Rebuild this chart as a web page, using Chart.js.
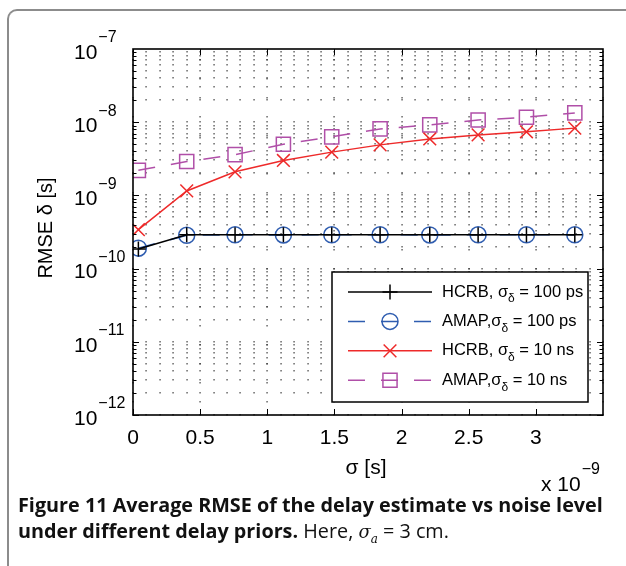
<!DOCTYPE html>
<html>
<head>
<meta charset="utf-8">
<script src="https://cdn.jsdelivr.net/npm/chart.js"></script>
<style>
  html, body { margin: 0; padding: 0; background: #fff; }
  body { width: 626px; height: 566px; position: relative; overflow: hidden; }
  #frame { position: absolute; left: 7px; top: 9px; width: 660px; height: 620px;
           border-left: 2px solid #8c8c8c; border-top: 2px solid #8c8c8c;
           border-top-left-radius: 10px; box-sizing: border-box; }
  #wrap { position: absolute; left: 0; top: 0; width: 626px; height: 495px; }
  #caption { position: absolute; left: 18px; top: 492px; width: 608px;
             font-family: "Open Sans", sans-serif; font-size: 19.8px; line-height: 26px; color: #111; }
  #caption b { font-weight: 700; }
  #caption i { font-family: "DejaVu Serif", serif; font-style: italic; font-size: 18px; }
</style>
</head>
<body>
<div id="frame"></div>
<div id="wrap"><canvas id="chart" width="626" height="495"></canvas></div>
<div id="caption"><b>Figure 11 Average RMSE of the delay estimate vs noise level<br>under different delay priors.</b> Here, <i>σ<sub style="font-size:12px">a</sub></i> = 3 cm.</div>
<script>
// noise level sigma, in units of 1e-9 s
const sigmaNs = [0.04, 0.40, 0.76, 1.12, 1.48, 1.84, 2.21, 2.57, 2.93, 3.29];

// RMSE of the delay estimate [s]
const hcrb100ps = [1.85e-10, 2.9e-10, 2.9e-10, 2.9e-10, 2.9e-10, 2.9e-10, 2.9e-10, 2.9e-10, 2.9e-10, 2.9e-10];
const amap100ps = [1.9e-10, 2.85e-10, 2.9e-10, 2.88e-10, 2.9e-10, 2.9e-10, 2.88e-10, 2.9e-10, 2.9e-10, 2.9e-10];
const hcrb10ns = [3.4e-10, 1.15e-9, 2.1e-9, 3.0e-9, 3.9e-9, 4.9e-9, 5.9e-9, 6.7e-9, 7.4e-9, 8.3e-9];
const amap10ns = [2.2e-9, 2.9e-9, 3.6e-9, 5.0e-9, 6.3e-9, 8.1e-9, 9.2e-9, 1.07e-8, 1.17e-8, 1.34e-8];

const legendNames = ['HCRB, ', 'AMAP,', 'HCRB, ', 'AMAP,'];
const legendPriors = ['100 ps', '100 ps', '10 ns', '10 ns'];

const xTicks = [0, 0.5, 1, 1.5, 2, 2.5, 3];
const yExps = [-12, -11, -10, -9, -8, -7];

const FONT = '"Liberation Sans", Arial, sans-serif';

const pts = (ys) => sigmaNs.map((x, i) => ({ x: x, y: ys[i] }));

const mkSet = (label, ys, color, style, radius, dash) => ({
  label: label,
  data: pts(ys),
  borderColor: color,
  backgroundColor: 'transparent',
  borderWidth: 1.5,
  borderDash: dash,
  pointStyle: style,
  pointRadius: radius,
  pointBorderColor: color,
  pointBackgroundColor: 'transparent',
  pointBorderWidth: 1.5,
  tension: 0,
  fill: false
});

const datasets = [
  mkSet('HCRB 100ps', hcrb100ps, '#000000', 'cross', 7.5, []),
  mkSet('AMAP 100ps', amap100ps, '#2f5db0', 'circle', 8, [17, 16]),
  mkSet('HCRB 10ns', hcrb10ns, '#ee2a2a', 'crossRot', 9, []),
  mkSet('AMAP 10ns', amap10ns, '#b04fa8', 'rect', 10, [17, 16])
];

const sup = (ctx, base, exp, x, y, bigPx, smallPx) => {
  ctx.textAlign = 'left';
  ctx.textBaseline = 'middle';
  ctx.font = bigPx + 'px ' + FONT;
  ctx.fillText(base, x, y);
  const w = ctx.measureText(base).width;
  ctx.font = smallPx + 'px ' + FONT;
  ctx.fillText(exp, x + w + 1, y - 15);
};

const matlabAxes = {
  id: 'matlabAxes',
  beforeDatasetsDraw(chart) {
    const { ctx, chartArea: a, scales: { x, y } } = chart;
    ctx.save();
    ctx.fillStyle = '#333';
    // dotted grid, drawn as a lattice of dots
    for (let i = 0; i <= 35; i++) {
      const px = Math.round(x.getPixelForValue(i / 10));
      for (let e = -12; e <= -8; e++) {
        for (let m = 1; m <= 9; m++) {
          const py = Math.round(y.getPixelForValue(m * Math.pow(10, e)));
          ctx.fillRect(px - 0.5, py - 1, 1.1, 1.5);
        }
      }
      if (i % 5 === 0) {
        for (let py = a.top + 10; py < a.bottom; py += 19) {
          ctx.fillRect(px - 0.5, py, 1.1, 1.5);
        }
      }
    }
    ctx.restore();
  },
  afterDatasetsDraw(chart) {
    const { ctx, chartArea: a, scales: { x, y } } = chart;
    ctx.save();
    ctx.strokeStyle = '#000';
    ctx.fillStyle = '#000';
    ctx.lineWidth = 1.6;
    ctx.strokeRect(a.left, a.top, a.right - a.left, a.bottom - a.top);

    // inward ticks
    ctx.lineWidth = 1;
    ctx.beginPath();
    xTicks.forEach(v => {
      const px = Math.round(x.getPixelForValue(v)) + 0.5;
      ctx.moveTo(px, a.bottom); ctx.lineTo(px, a.bottom - 6);
      ctx.moveTo(px, a.top); ctx.lineTo(px, a.top + 6);
    });
    for (let e = -12; e <= -8; e++) {
      for (let m = 1; m <= 9; m++) {
        const py = Math.round(y.getPixelForValue(m * Math.pow(10, e))) + 0.5;
        const len = m === 1 ? 6 : 3.5;
        ctx.moveTo(a.left, py); ctx.lineTo(a.left + len, py);
        ctx.moveTo(a.right, py); ctx.lineTo(a.right - len, py);
      }
    }
    ctx.stroke();

    // x tick labels
    ctx.font = '21px ' + FONT;
    ctx.textAlign = 'center';
    ctx.textBaseline = 'middle';
    xTicks.forEach(v => ctx.fillText(String(v), x.getPixelForValue(v), a.bottom + 23));

    // y tick labels 10^e
    yExps.forEach(e => {
      const py = y.getPixelForValue(Math.pow(10, e));
      sup(ctx, '10', '\u2212' + Math.abs(e), 74, py + 4, 21, 16);
    });

    // axis titles
    ctx.fillStyle = '#000';
    ctx.font = '21px ' + FONT;
    ctx.textAlign = 'center';
    ctx.textBaseline = 'middle';
    ctx.fillText('\u03c3 [s]', (a.left + a.right) / 2 - 2, a.bottom + 53);
    sup(ctx, 'x 10', '\u22129', 541, a.bottom + 70, 21, 16);

    ctx.save();
    ctx.translate(46, 228);
    ctx.rotate(-Math.PI / 2);
    ctx.font = '20px ' + FONT;
    ctx.textAlign = 'center';
    ctx.fillText('RMSE \u03b4 [s]', 0, 0);
    ctx.restore();

    // legend
    const lx = 332, ly = 272, lw = 256, lh = 130;
    ctx.fillStyle = '#fff';
    ctx.fillRect(lx, ly, lw, lh);
    ctx.lineWidth = 1.5;
    ctx.strokeStyle = '#000';
    ctx.strokeRect(lx, ly, lw, lh);
    chart.data.datasets.forEach((ds, i) => {
      const ry = ly + 20 + i * 29.4;
      ctx.save();
      ctx.strokeStyle = ds.borderColor;
      ctx.lineWidth = ds.borderWidth;
      ctx.setLineDash(ds.borderDash);
      ctx.beginPath();
      ctx.moveTo(lx + 16, ry);
      ctx.lineTo(lx + 100, ry);
      ctx.stroke();
      ctx.setLineDash([]);
      ctx.lineWidth = ds.pointBorderWidth;
      ctx.fillStyle = 'transparent';
      Chart.helpers.drawPoint(ctx, {
        pointStyle: ds.pointStyle, radius: ds.pointRadius, rotation: 0, borderWidth: ds.pointBorderWidth
      }, lx + 58, ry);
      ctx.restore();

      let tx = lx + 110;
      ctx.fillStyle = '#000';
      ctx.textAlign = 'left';
      ctx.textBaseline = 'middle';
      ctx.font = '16.5px ' + FONT;
      const head = legendNames[i] + '\u03c3';
      ctx.fillText(head, tx, ry);
      tx += ctx.measureText(head).width;
      ctx.font = '12px ' + FONT;
      ctx.fillText('\u03b4', tx, ry + 7);
      tx += ctx.measureText('\u03b4').width;
      ctx.font = '16.5px ' + FONT;
      ctx.fillText(' = ' + legendPriors[i], tx, ry);
    });
    ctx.restore();
  }
};

new Chart(document.getElementById('chart'), {
  type: 'line',
  data: { datasets: datasets },
  options: {
    responsive: false,
    animation: false,
    layout: { padding: { left: 0, top: 49, right: 23, bottom: 0 } },
    plugins: { legend: { display: false }, tooltip: { enabled: false } },
    scales: {
      x: {
        type: 'linear', min: 0, max: 3.5,
        grid: { display: false }, border: { display: false },
        ticks: { display: false },
        afterFit: (s) => { s.height = 80; }
      },
      y: {
        type: 'logarithmic', min: 1e-12, max: 1e-7,
        grid: { display: false }, border: { display: false },
        ticks: { display: false },
        afterFit: (s) => { s.width = 133; }
      }
    }
  },
  plugins: [matlabAxes]
});
</script>
</body>
</html>
